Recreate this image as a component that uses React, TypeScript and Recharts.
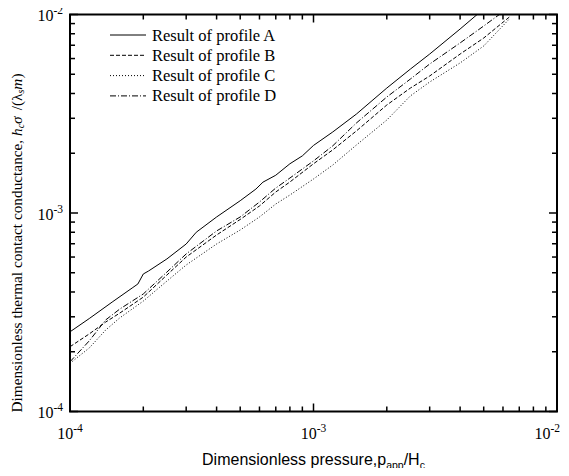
import React from 'react';
import { LineChart, Line, XAxis, YAxis, ReferenceArea, Legend } from 'recharts';

// values (log-log), one pair of arrays per profile
const pressureA = [1e-4, 1.2e-4, 1.5e-4, 1.8e-4, 1.9e-4, 2e-4, 2.1e-4, 2.5e-4, 3e-4, 3.3e-4, 4e-4, 5e-4, 5.8e-4, 6.2e-4, 7e-4, 8e-4, 9e-4, 1e-3, 1.2e-3, 1.5e-3, 2e-3, 2.5e-3, 3e-3, 4e-3, 4.7e-3];
const conductanceA = [2.52e-4, 2.94e-4, 3.58e-4, 4.19e-4, 4.39e-4, 4.93e-4, 5.1e-4, 5.87e-4, 6.98e-4, 8.0e-4, 9.55e-4, 1.153e-3, 1.32e-3, 1.43e-3, 1.55e-3, 1.77e-3, 1.94e-3, 2.19e-3, 2.56e-3, 3.15e-3, 4.26e-3, 5.31e-3, 6.32e-3, 8.45e-3, 1.0e-2];

const pressureB = [1e-4, 1.2e-4, 1.4e-4, 1.6e-4, 2e-4, 2.5e-4, 3e-4, 4e-4, 5e-4, 6e-4, 7e-4, 8e-4, 1e-3, 1.2e-3, 1.5e-3, 2e-3, 2.5e-3, 3e-3, 4e-3, 5e-3, 6.4e-3];
const conductanceB = [2.12e-4, 2.46e-4, 2.82e-4, 3.13e-4, 3.77e-4, 4.87e-4, 6.0e-4, 7.75e-4, 9.28e-4, 1.085e-3, 1.276e-3, 1.433e-3, 1.77e-3, 2.08e-3, 2.59e-3, 3.5e-3, 4.26e-3, 4.9e-3, 6.32e-3, 7.61e-3, 9.75e-3];

const pressureC = [1e-4, 1.2e-4, 1.4e-4, 1.6e-4, 2e-4, 2.5e-4, 3e-4, 4e-4, 5e-4, 6e-4, 7e-4, 8e-4, 1e-3, 1.2e-3, 1.5e-3, 2e-3, 2.5e-3, 3e-3, 4e-3, 5e-3, 6.4e-3];
const conductanceC = [1.75e-4, 2.09e-4, 2.57e-4, 2.96e-4, 3.6e-4, 4.54e-4, 5.47e-4, 6.98e-4, 8.21e-4, 9.55e-4, 1.11e-3, 1.232e-3, 1.484e-3, 1.745e-3, 2.2e-3, 2.94e-3, 3.89e-3, 4.57e-3, 5.7e-3, 6.94e-3, 9.55e-3];

const pressureD = [1e-4, 1.2e-4, 1.4e-4, 1.6e-4, 2e-4, 2.5e-4, 3e-4, 4e-4, 5e-4, 6e-4, 7e-4, 8e-4, 1e-3, 1.2e-3, 1.5e-3, 2e-3, 2.5e-3, 3e-3, 4e-3, 5e-3, 5.8e-3];
const conductanceD = [1.78e-4, 2.27e-4, 2.89e-4, 3.28e-4, 3.91e-4, 5.04e-4, 6.22e-4, 8.12e-4, 9.55e-4, 1.136e-3, 1.336e-3, 1.5e-3, 1.83e-3, 2.18e-3, 2.84e-3, 3.84e-3, 4.73e-3, 5.63e-3, 7.19e-3, 8.75e-3, 1.0e-2];

const profileNames = ['Result of profile A', 'Result of profile B', 'Result of profile C', 'Result of profile D'];

const xTicks = [1e-4, 2e-4, 3e-4, 4e-4, 5e-4, 6e-4, 7e-4, 8e-4, 9e-4, 1e-3, 2e-3, 3e-3, 4e-3, 5e-3, 6e-3, 7e-3, 8e-3, 9e-3, 1e-2];
const yTicks = [1e-4, 2e-4, 3e-4, 4e-4, 5e-4, 6e-4, 7e-4, 8e-4, 9e-4, 1e-3, 2e-3, 3e-3, 4e-3, 5e-3, 6e-3, 7e-3, 8e-3, 9e-3, 1e-2];

const toRows = (p: number[], h: number[]) => p.map((v, i) => ({ p: v, h: h[i] }));
const series = [
  toRows(pressureA, conductanceA),
  toRows(pressureB, conductanceB),
  toRows(pressureC, conductanceC),
  toRows(pressureD, conductanceD),
];

const dashes = [undefined, '4 2', '1 2', '6 2 1 2'];

const SERIF = '"Liberation Serif", "Times New Roman", serif';
const SANS = '"Liberation Sans", Arial, sans-serif';
const PLOT_W = 487;
const PLOT_H = 397;

const isDecade = (v: number) => Math.abs(Math.log10(v) - Math.round(Math.log10(v))) < 1e-6;

const XTick = (props: any) => {
  const { x, y, payload } = props;
  const v = payload.value;
  const major = isDecade(v);
  const len = major ? 8 : 5;
  const last = v >= 1e-2;
  return (
    <g>
      <line x1={x} x2={x} y1={y} y2={y - len} stroke="#000" strokeWidth={1.5} />
      <line x1={x} x2={x} y1={y - PLOT_H} y2={y - PLOT_H + len} stroke="#000" strokeWidth={1.5} />
      {major && (
        <text
          x={last ? x + 3 : x}
          y={y + 27}
          textAnchor={last ? 'end' : 'middle'}
          style={{ fontFamily: SERIF }}
          fontSize={16}
          fill="#000"
        >
          10<tspan dy={-7} fontSize={11.5}>{Math.round(Math.log10(v))}</tspan>
        </text>
      )}
    </g>
  );
};

const YTick = (props: any) => {
  const { x, y, payload } = props;
  const v = payload.value;
  const major = isDecade(v);
  const len = major ? 8 : 5;
  return (
    <g>
      <line x1={x} x2={x + len} y1={y} y2={y} stroke="#000" strokeWidth={1.5} />
      <line x1={x + PLOT_W} x2={x + PLOT_W - len} y1={y} y2={y} stroke="#000" strokeWidth={1.5} />
      {major && (
        <text x={x - 7} y={y + 6.5} textAnchor="end" style={{ fontFamily: SERIF }} fontSize={16} fill="#000">
          10<tspan dy={-7} fontSize={11.5}>{Math.round(Math.log10(v))}</tspan>
        </text>
      )}
    </g>
  );
};

const XTitle = (props: any) => {
  const { viewBox } = props;
  const cx = viewBox.x + viewBox.width / 2;
  const y = viewBox.y + 53.5;
  return (
    <text x={cx} y={y} textAnchor="middle" style={{ fontFamily: SANS }} fontSize={16} fill="#000">
      Dimensionless pressure,p
      <tspan fontSize={10.5} dy={4}>app</tspan>
      <tspan dy={-4}>/H</tspan>
      <tspan fontSize={10.5} dy={4}>c</tspan>
    </text>
  );
};

const YTitle = (props: any) => {
  const { viewBox } = props;
  const cx = viewBox.x + 8;
  const cy = viewBox.y + viewBox.height / 2 + 30;
  return (
    <text
      transform={`translate(${cx},${cy}) rotate(-90)`}
      textAnchor="middle"
      dominantBaseline="central"
      style={{ fontFamily: SERIF }}
      fontSize={15.3}
      fill="#000"
    >
      {'Dimensionless thermal contact conductance, '}
      <tspan fontStyle="italic">h</tspan>
      <tspan fontStyle="italic" fontSize={10} dy={4}>c</tspan>
      <tspan fontStyle="italic" dy={-4}>σ</tspan>
      <tspan dx={6}>/(λ</tspan>
      <tspan fontStyle="italic" fontSize={10} dy={4}>s</tspan>
      <tspan fontStyle="italic" dy={-4}>m</tspan>
      <tspan>)</tspan>
    </text>
  );
};

const LegendBox = () => (
  <svg width={220} height={90}>
    {profileNames.map((name, i) => {
      const cy = 12 + i * 20.3;
      return (
        <g key={name}>
          <line x1={2} x2={38} y1={cy} y2={cy} stroke="#000" strokeWidth={1} strokeDasharray={dashes[i]} />
          <text x={44} y={cy + 5.5} style={{ fontFamily: SERIF }} fontSize={16.5} fill="#000">{name}</text>
        </g>
      );
    })}
  </svg>
);

export default function App() {
  return (
    <div style={{ width: 561, height: 460 }}>
      <style>{'svg.recharts-surface, .recharts-wrapper { overflow: visible !important; }'}</style>
      <LineChart width={561} height={460} margin={{ top: 6.5, right: 12, left: 0, bottom: 0 }}>
        <XAxis
          dataKey="p"
          type="number"
          scale="log"
          domain={[1e-4, 1e-2]}
          ticks={xTicks}
          interval={0}
          allowDataOverflow
          height={56.5}
          tickSize={0}
          tickMargin={0}
          tickLine={false}
          axisLine={false}
          tick={<XTick />}
          label={<XTitle />}
        />
        <YAxis
          dataKey="h"
          type="number"
          scale="log"
          domain={[1e-4, 1e-2]}
          ticks={yTicks}
          interval={0}
          allowDataOverflow
          width={62}
          tickSize={0}
          tickMargin={0}
          tickLine={false}
          axisLine={false}
          tick={<YTick />}
          label={<YTitle />}
        />
        <ReferenceArea x1={1e-4} x2={1e-2} y1={1e-4} y2={1e-2} stroke="#000" strokeWidth={2} fill="none" fillOpacity={0} />
        {series.map((rows, i) => (
          <Line
            key={profileNames[i]}
            data={rows}
            dataKey="h"
            name={profileNames[i]}
            type="linear"
            stroke="#000"
            strokeWidth={1}
            strokeDasharray={dashes[i]}
            dot={false}
            activeDot={false}
            isAnimationActive={false}
          />
        ))}
        <Legend
          layout="vertical"
          align="center"
          verticalAlign="middle"
          wrapperStyle={{ left: 100, top: 15, width: 220, height: 90 }}
          content={<LegendBox />}
        />
      </LineChart>
    </div>
  );
}
